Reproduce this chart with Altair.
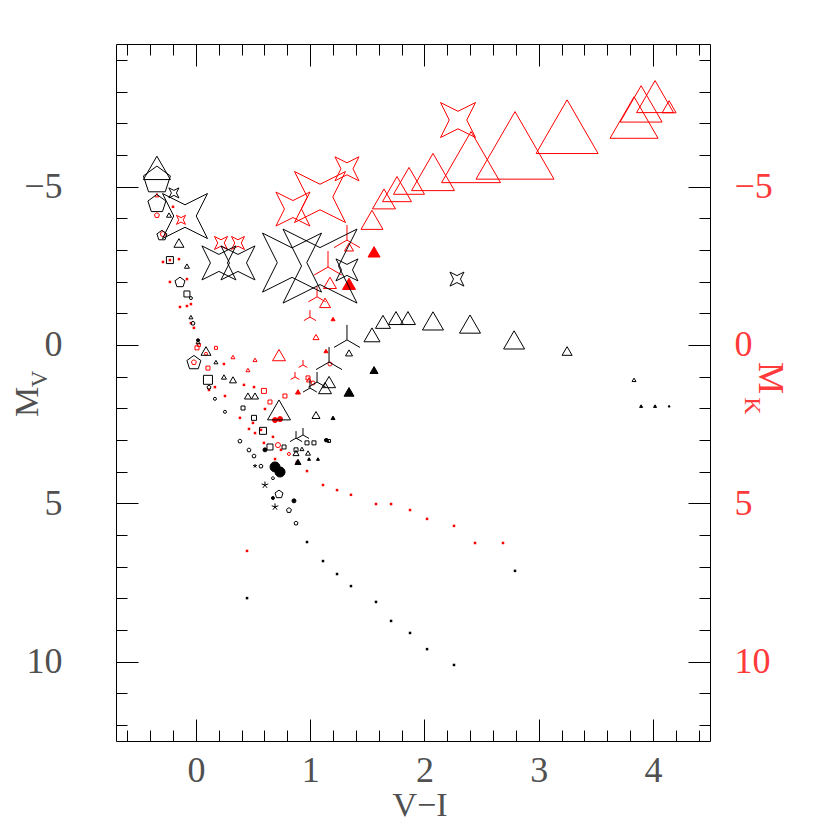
import altair as alt
import pandas as pd

# ---------------- data (V-I, M_V, symbol width) ----------------
red_tri_x = [2.075, 1.865, 1.760, 1.646, 2.408, 2.793, 3.249, 3.835, 3.897, 4.019, 4.142, 1.541, 1.340, 1.173, 1.130, 1.051, 0.727, 0.324, 0.517, 0.455, 0.990, -0.342]
red_tri_y = [-5.46, -5.18, -4.92, -4.61, -5.93, -6.30, -6.89, -7.18, -7.61, -7.84, -7.52, -3.95, -3.09, -1.96, -1.33, -0.25, 0.32, 0.38, 0.47, 0.79, 1.10, -4.73]
red_tri_w = [43, 31, 29, 23, 59, 78, 62, 48, 42, 37, 14, 22, 9, 13, 11, 6, 13, 4, 4, 4, 5, 4]

red_tri_f_x = [1.559, 1.340, 1.200, 0.893, 1.138]
red_tri_f_y = [-2.94, -1.93, -0.82, 1.48, 0.19]
red_tri_f_w = [12, 13, 4, 5, 4]

red_star_x = [2.294, 1.322, 1.086, 0.849, -0.131, 0.219, 0.368]
red_star_y = [-7.10, -5.56, -4.67, -4.29, -3.95, -3.22, -3.22]
red_star_w = [35, 24, 51, 34, 9, 13, 13]

red_y_x = [1.322, 1.156, 1.060, 0.998, 0.937, 0.867]
red_y_y = [-3.31, -2.46, -1.52, -0.88, 0.63, 1.01]
red_y_w = [30, 32, 20, 14, 10, 10]

red_sq_x = [0.009, 0.105, 0.595, 0.648, 0.779, 0.981, 0.175, 0.026]
red_sq_y = [0.09, 0.73, 1.45, 1.80, 1.61, 1.04, 0.09, 0.00]
red_sq_w = [4, 4, 5, 4, 4, 4, 3, 3]

red_circ_x = [-0.289, 0.718, 1.173, 0.814, 1.025, 0.088]
red_circ_y = [-3.50, 3.16, 0.60, 3.44, 1.20, 0.28]
red_circ_w = [5, 5, 4, 3, 4, 3]

red_pent_x = [-0.342, -0.018]
red_pent_y = [-4.10, 0.54]
red_pent_w = [5, 5]

red_dot_x = [-0.201, -0.149, -0.289, -0.228, -0.079, -0.140, -0.079, -0.044, -0.018, -0.044, -0.228,
             0.245, 0.166, 0.114, 0.254, 0.420, 0.508, 0.604, 0.385, 0.464, 0.517, 0.674, 0.692, 0.884,
             0.499, 0.569, 0.595, 0.744, 0.972, 1.112, 1.235, 1.357, 1.576, 1.708, 1.874, 2.023, 2.259,
             2.443, 2.688, 0.447]
red_dot_y = [-4.36, -2.71, -2.62, -1.99, -2.08, -1.20, -1.23, -1.29, -0.54, -0.69, -2.68,
             0.60, 1.33, 1.42, 1.61, 1.26, 1.33, 2.02, 2.30, 2.65, 2.78, 2.90, 3.60, 3.69,
             2.46, 2.68, 3.09, 3.31, 3.98, 4.42, 4.58, 4.73, 5.02, 5.02, 5.21, 5.49, 5.71,
             6.25, 6.25, 6.50]
red_dot_w = [2.5] * 40

red_blob_x = [0.692, 0.736]
red_blob_y = [2.37, 2.34]
red_blob_w = [5, 5]

blk_tri_x = [-0.342, -0.236, -0.149, -0.079, -0.044, 0.088, 0.175, 0.245, 0.324, 0.455, 0.517, 0.727, 0.876, 0.928, 0.981, 1.051, 1.165, 1.130, 1.340, 1.541, 1.637, 1.751, 1.856, 2.075, 2.399, 2.785, 3.249, 3.835, 0.018]
blk_tri_y = [-5.59, -4.10, -3.22, -2.49, -0.88, 0.19, 0.54, 1.01, 1.10, 1.61, 1.61, 2.05, 3.41, 3.28, 3.41, 2.21, 1.17, 1.36, 0.25, -0.32, -0.73, -0.85, -0.85, -0.76, -0.66, -0.16, 0.19, 1.10, -0.09]
blk_tri_w = [27, 5, 10, 5, 4, 10, 4, 5, 7, 7, 7, 23, 6, 4, 5, 8, 13, 13, 7, 16, 15, 15, 15, 21, 21, 21, 10, 4, 4]

blk_tri_f_x = [1.559, 1.340, 1.200, 1.147, 0.893, 0.990, 1.068, 3.897, 4.019, 4.142]
blk_tri_f_y = [0.79, 1.48, 2.30, 3.00, 3.69, 3.60, 3.60, 1.93, 1.93, 1.93]
blk_tri_f_w = [8, 10, 4, 4, 6, 3, 3, 3, 3, 2]

blk_star_x = [-0.096, -0.193, 0.201, 0.368, 0.841, 1.086, 1.322, 2.285]
blk_star_y = [-4.07, -4.80, -2.59, -2.59, -2.60, -2.49, -2.37, -2.08]
blk_star_w = [45, 10, 34, 34, 59, 74, 22, 14]

blk_y_x = [1.322, 1.165, 1.060, 0.998, 0.937, 0.876]
blk_y_y = [-0.16, 0.54, 1.17, 1.36, 2.84, 2.94]
blk_y_w = [30, 30, 20, 16, 14, 14]

blk_pent_x = [-0.342, -0.342, -0.298, -0.140, -0.026, -0.018, 0.114, 0.385, 0.464, 0.508, 0.569, 0.727, 0.814, 0.876, 0.674]
blk_pent_y = [-5.24, -4.48, -3.47, -1.99, -0.69, 0.54, 1.33, 3.03, 3.31, 3.50, 3.82, 4.70, 5.21, 5.62, 4.20]
blk_pent_w = [27, 18, 10, 10, 4, 14, 4, 4, 4, 4, 4, 8, 5, 4, 3]

blk_sq_x = [-0.228, -0.079, 0.105, 0.412, 0.508, 0.587, 0.648, 0.771, 0.876, 0.972, 1.033, 1.165]
blk_sq_y = [-2.68, -1.61, 1.10, 1.99, 2.30, 2.71, 3.22, 3.22, 3.31, 3.09, 3.09, 3.03]
blk_sq_w = [7, 6, 9, 4, 5, 7, 6, 4, 4, 4, 4, 3]

blk_circ_x = [-0.044, 0.166, 0.254]
blk_circ_y = [-1.48, 1.70, 2.11]
blk_circ_w = [3, 3, 3]

blk_fill_x = [0.692, 0.736, 0.604, 0.858, 0.674, 1.138, 0.018]
blk_fill_y = [3.85, 4.01, 3.31, 4.92, 4.83, 3.00, -0.15]
blk_fill_w = [10, 10, 4, 4, 3, 3, 3]

blk_ast_x = [0.517, 0.604, 0.692]
blk_ast_y = [3.82, 4.42, 5.11]
blk_ast_w = [4, 7, 7]

blk_dot_x = [0.972, 1.112, 1.235, 1.357, 1.576, 1.708, 1.874, 2.023, 2.259, 0.447, 2.793]
blk_dot_y = [6.22, 6.82, 7.23, 7.61, 8.11, 8.71, 9.09, 9.60, 10.10, 7.99, 7.13]
blk_dot_w = [2.5] * 11

x_ticks_major = [0, 1, 2, 3, 4]
y_ticks_major = [-5, 0, 5, 10]

# ---------------- build table ----------------
RED = "#ff0000"
BLK = "#000000"
# (shape, colour, filled, outline width, xs, ys, ws)
groups = [
    ("tri", RED, False, 1, red_tri_x, red_tri_y, red_tri_w),
    ("tri", RED, True, 1, red_tri_f_x, red_tri_f_y, red_tri_f_w),
    ("star4", RED, False, 1, red_star_x, red_star_y, red_star_w),
    ("yshape", RED, False, 1, red_y_x, red_y_y, red_y_w),
    ("square", RED, False, 1, red_sq_x, red_sq_y, red_sq_w),
    ("circle", RED, False, 1, red_circ_x, red_circ_y, red_circ_w),
    ("pent", RED, False, 1, red_pent_x, red_pent_y, red_pent_w),
    ("square", RED, True, 0, red_dot_x, red_dot_y, red_dot_w),
    ("circle", RED, True, 1, red_blob_x, red_blob_y, red_blob_w),
    ("tri", BLK, False, 1, blk_tri_x, blk_tri_y, blk_tri_w),
    ("tri", BLK, True, 1, blk_tri_f_x, blk_tri_f_y, blk_tri_f_w),
    ("star4", BLK, False, 1, blk_star_x, blk_star_y, blk_star_w),
    ("yshape", BLK, False, 1, blk_y_x, blk_y_y, blk_y_w),
    ("pent", BLK, False, 1, blk_pent_x, blk_pent_y, blk_pent_w),
    ("square", BLK, False, 1, blk_sq_x, blk_sq_y, blk_sq_w),
    ("circle", BLK, False, 1, blk_circ_x, blk_circ_y, blk_circ_w),
    ("circle", BLK, True, 1, blk_fill_x, blk_fill_y, blk_fill_w),
    ("aster", BLK, False, 1, blk_ast_x, blk_ast_y, blk_ast_w),
    ("square", BLK, True, 0, blk_dot_x, blk_dot_y, blk_dot_w),
]
factor = {"tri": 1.0, "star4": 1.0, "pent": 1 / 0.951, "yshape": 1.0,
          "square": 1.0, "circle": 1.0, "aster": 1.0}
rows = []
for shp, col, filled, sw, xs, ys, ws in groups:
    for xv, yv, wv in zip(xs, ys, ws):
        rows.append({"x": xv, "y": yv, "shape": shp, "col": col,
                     "fillc": col if filled else "transparent", "sw": sw,
                     "size": (wv * factor[shp]) ** 2})
df = pd.DataFrame(rows)

shape_names = ["tri", "star4", "pent", "yshape", "square", "circle", "aster"]
shape_paths = [
    "M0,-0.866L1,0.866L-1,0.866Z",
    "M-1,-1L0,-0.5L1,-1L0.5,0L1,1L0,0.5L-1,1L-0.5,0Z",
    "M0,-0.905L0.951,-0.214L0.588,0.904L-0.588,0.904L-0.951,-0.214Z",
    "M0,0L0,-1M0,0L0.866,0.5M0,0L-0.866,0.5",
    "M-1,-1L1,-1L1,1L-1,1Z",
    "circle",
    "M0,0L0,-1M0,0L0.951,-0.309M0,0L0.588,0.809M0,0L-0.588,0.809M0,0L-0.951,-0.309",
]

FONT = "Liberation Serif"
GRAY = "#505050"
REDT = "#ff3a3a"
FS = 36

XS = alt.Scale(domain=[-0.7, 4.5], nice=False, zero=False)
YS = alt.Scale(domain=[-9.5, 12.5], nice=False, zero=False, reverse=True)

x_minor = [round(-0.6 + 0.2 * i, 2) for i in range(26)]
y_minor = list(range(-9, 13))

MINOR = 11
MAJOR = 22


def tick_axis(orient, values, size):
    return alt.Axis(orient=orient, values=values, ticks=True, tickSize=size, offset=-size,
                    labels=False, domain=False, grid=False, title=None,
                    tickColor="black", tickWidth=1)


ax_xlab = alt.Axis(orient="bottom", values=x_ticks_major, ticks=False, tickSize=0, domain=False,
                   grid=False, title=None, labelFont=FONT, labelFontSize=FS, labelColor=GRAY,
                   labelPadding=12, labelBaseline="top", format="d")
ax_ylab = alt.Axis(orient="left", values=y_ticks_major, ticks=False, tickSize=0, domain=False,
                   grid=False, title=None, labelFont=FONT, labelFontSize=FS, labelColor=GRAY,
                   labelPadding=54, labelBaseline="middle", format="d")
ax_ylab_r = alt.Axis(orient="right", values=y_ticks_major, ticks=False, tickSize=0, domain=False,
                     grid=False, title=None, labelFont=FONT, labelFontSize=FS, labelColor=REDT,
                     labelPadding=24, labelBaseline="middle", format="d")

points = alt.Chart(df).mark_point(opacity=1, fillOpacity=1, strokeOpacity=1).encode(
    x=alt.X("x:Q", scale=XS, axis=ax_xlab),
    y=alt.Y("y:Q", scale=YS, axis=ax_ylab),
    shape=alt.Shape("shape:N", scale=alt.Scale(domain=shape_names, range=shape_paths), legend=None),
    size=alt.Size("size:Q", scale=None),
    stroke=alt.Stroke("col:N", scale=None),
    fill=alt.Fill("fillc:N", scale=None),
    strokeWidth=alt.StrokeWidth("sw:Q", scale=None),
)


def dummy(xaxis, yaxis):
    return alt.Chart(df).mark_point(opacity=0).encode(
        x=alt.X("x:Q", scale=XS, axis=xaxis),
        y=alt.Y("y:Q", scale=YS, axis=yaxis),
    )


t1 = dummy(tick_axis("bottom", x_minor, MINOR), tick_axis("left", y_minor, MINOR))
t2 = dummy(tick_axis("bottom", x_ticks_major, MAJOR), tick_axis("left", y_ticks_major, MAJOR))
t3 = dummy(tick_axis("top", x_minor, MINOR), tick_axis("right", y_minor, MINOR))
t4 = dummy(tick_axis("top", x_ticks_major, MAJOR), tick_axis("right", y_ticks_major, MAJOR))
t5 = dummy(None, ax_ylab_r)

one = pd.DataFrame({"a": [0]})


def label(text, px, py, size, color, angle=0):
    return alt.Chart(one).mark_text(text=text, font=FONT, fontSize=size, color=color,
                                    angle=angle, align="center", baseline="middle").encode(
        x=alt.value(px), y=alt.value(py))


titles = [
    label("V\u2212I", 304, 762, 34, GRAY),
    label("M", -88, 358, 34, GRAY, 270),
    label("V", -76, 335, 23, GRAY, 270),
    label("M", 654, 334, FS, REDT, 90),
    label("K", 636, 362, 24, REDT, 90),
]

chart = alt.layer(points, t1, t2, t3, t4, t5, *titles).resolve_axis(
    x="independent", y="independent"
).properties(
    width=594, height=697,
    autosize=alt.AutoSizeParams(type="none"),
    padding={"left": 108, "top": 36, "right": 104, "bottom": 81},
).configure_view(stroke="black", strokeWidth=1)

chart.save("out.html", embed_options={"renderer": "svg", "actions": False})
